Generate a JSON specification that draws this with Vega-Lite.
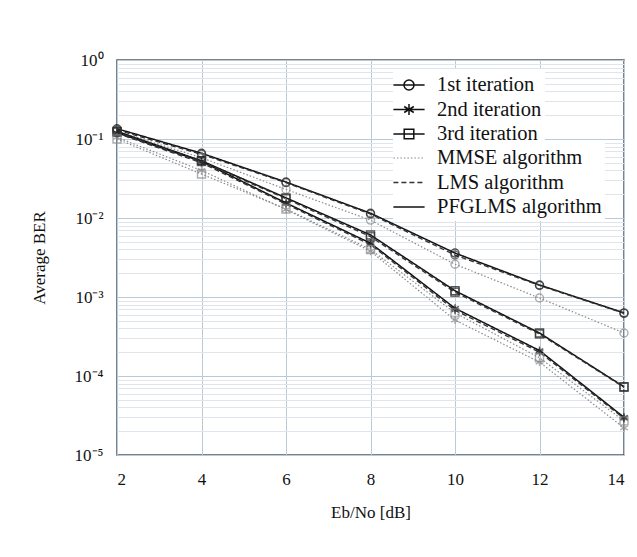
{
  "$schema": "https://vega.github.io/schema/vega-lite/v6.json",
  "width": 507,
  "height": 395,
  "autosize": "none",
  "padding": {"left": 117, "top": 60, "right": 13, "bottom": 102},
  "background": "white",
  "config": {
    "view": {"stroke": "#4a5a6a", "strokeWidth": 1.5},
    "font": "Liberation Serif",
    "axis": {"labelFont": "Liberation Serif", "titleFont": "Liberation Serif", "labelColor": "#111", "titleColor": "#111", "titleFontWeight": "normal"},
    "legend": {"labelFont": "Liberation Serif", "labelFontSize": 20.5, "labelColor": "#111", "labelLimit": 400}
  },
  "data": {
    "values": [
      {"snr": 2, "ber": 0.135, "iter": "1st iteration", "alg": "PFGLMS algorithm"},
      {"snr": 4, "ber": 0.066, "iter": "1st iteration", "alg": "PFGLMS algorithm"},
      {"snr": 6, "ber": 0.0285, "iter": "1st iteration", "alg": "PFGLMS algorithm"},
      {"snr": 8, "ber": 0.0115, "iter": "1st iteration", "alg": "PFGLMS algorithm"},
      {"snr": 10, "ber": 0.0036, "iter": "1st iteration", "alg": "PFGLMS algorithm"},
      {"snr": 12, "ber": 0.00142, "iter": "1st iteration", "alg": "PFGLMS algorithm"},
      {"snr": 14, "ber": 0.00063, "iter": "1st iteration", "alg": "PFGLMS algorithm"},
      {"snr": 2, "ber": 0.13, "iter": "1st iteration", "alg": "LMS algorithm"},
      {"snr": 4, "ber": 0.064, "iter": "1st iteration", "alg": "LMS algorithm"},
      {"snr": 6, "ber": 0.028, "iter": "1st iteration", "alg": "LMS algorithm"},
      {"snr": 8, "ber": 0.0112, "iter": "1st iteration", "alg": "LMS algorithm"},
      {"snr": 10, "ber": 0.0034, "iter": "1st iteration", "alg": "LMS algorithm"},
      {"snr": 12, "ber": 0.0014, "iter": "1st iteration", "alg": "LMS algorithm"},
      {"snr": 14, "ber": 0.00062, "iter": "1st iteration", "alg": "LMS algorithm"},
      {"snr": 2, "ber": 0.125, "iter": "1st iteration", "alg": "MMSE algorithm"},
      {"snr": 4, "ber": 0.058, "iter": "1st iteration", "alg": "MMSE algorithm"},
      {"snr": 6, "ber": 0.023, "iter": "1st iteration", "alg": "MMSE algorithm"},
      {"snr": 8, "ber": 0.0094, "iter": "1st iteration", "alg": "MMSE algorithm"},
      {"snr": 10, "ber": 0.0026, "iter": "1st iteration", "alg": "MMSE algorithm"},
      {"snr": 12, "ber": 0.00097, "iter": "1st iteration", "alg": "MMSE algorithm"},
      {"snr": 14, "ber": 0.00035, "iter": "1st iteration", "alg": "MMSE algorithm"},
      {"snr": 2, "ber": 0.12, "iter": "2nd iteration", "alg": "PFGLMS algorithm"},
      {"snr": 4, "ber": 0.052, "iter": "2nd iteration", "alg": "PFGLMS algorithm"},
      {"snr": 6, "ber": 0.0155, "iter": "2nd iteration", "alg": "PFGLMS algorithm"},
      {"snr": 8, "ber": 0.0048, "iter": "2nd iteration", "alg": "PFGLMS algorithm"},
      {"snr": 10, "ber": 0.00072, "iter": "2nd iteration", "alg": "PFGLMS algorithm"},
      {"snr": 12, "ber": 0.00021, "iter": "2nd iteration", "alg": "PFGLMS algorithm"},
      {"snr": 14, "ber": 0.00003, "iter": "2nd iteration", "alg": "PFGLMS algorithm"},
      {"snr": 2, "ber": 0.118, "iter": "2nd iteration", "alg": "LMS algorithm"},
      {"snr": 4, "ber": 0.05, "iter": "2nd iteration", "alg": "LMS algorithm"},
      {"snr": 6, "ber": 0.015, "iter": "2nd iteration", "alg": "LMS algorithm"},
      {"snr": 8, "ber": 0.0046, "iter": "2nd iteration", "alg": "LMS algorithm"},
      {"snr": 10, "ber": 0.00068, "iter": "2nd iteration", "alg": "LMS algorithm"},
      {"snr": 12, "ber": 0.0002, "iter": "2nd iteration", "alg": "LMS algorithm"},
      {"snr": 14, "ber": 0.000029, "iter": "2nd iteration", "alg": "LMS algorithm"},
      {"snr": 2, "ber": 0.105, "iter": "2nd iteration", "alg": "MMSE algorithm"},
      {"snr": 4, "ber": 0.04, "iter": "2nd iteration", "alg": "MMSE algorithm"},
      {"snr": 6, "ber": 0.0128, "iter": "2nd iteration", "alg": "MMSE algorithm"},
      {"snr": 8, "ber": 0.0038, "iter": "2nd iteration", "alg": "MMSE algorithm"},
      {"snr": 10, "ber": 0.00051, "iter": "2nd iteration", "alg": "MMSE algorithm"},
      {"snr": 12, "ber": 0.00015, "iter": "2nd iteration", "alg": "MMSE algorithm"},
      {"snr": 14, "ber": 0.000022, "iter": "2nd iteration", "alg": "MMSE algorithm"},
      {"snr": 2, "ber": 0.125, "iter": "3rd iteration", "alg": "PFGLMS algorithm"},
      {"snr": 4, "ber": 0.053, "iter": "3rd iteration", "alg": "PFGLMS algorithm"},
      {"snr": 6, "ber": 0.018, "iter": "3rd iteration", "alg": "PFGLMS algorithm"},
      {"snr": 8, "ber": 0.0061, "iter": "3rd iteration", "alg": "PFGLMS algorithm"},
      {"snr": 10, "ber": 0.0012, "iter": "3rd iteration", "alg": "PFGLMS algorithm"},
      {"snr": 12, "ber": 0.00035, "iter": "3rd iteration", "alg": "PFGLMS algorithm"},
      {"snr": 14, "ber": 0.000073, "iter": "3rd iteration", "alg": "PFGLMS algorithm"},
      {"snr": 2, "ber": 0.122, "iter": "3rd iteration", "alg": "LMS algorithm"},
      {"snr": 4, "ber": 0.052, "iter": "3rd iteration", "alg": "LMS algorithm"},
      {"snr": 6, "ber": 0.0175, "iter": "3rd iteration", "alg": "LMS algorithm"},
      {"snr": 8, "ber": 0.0058, "iter": "3rd iteration", "alg": "LMS algorithm"},
      {"snr": 10, "ber": 0.00115, "iter": "3rd iteration", "alg": "LMS algorithm"},
      {"snr": 12, "ber": 0.00034, "iter": "3rd iteration", "alg": "LMS algorithm"},
      {"snr": 14, "ber": 0.000072, "iter": "3rd iteration", "alg": "LMS algorithm"},
      {"snr": 2, "ber": 0.1, "iter": "3rd iteration", "alg": "MMSE algorithm"},
      {"snr": 4, "ber": 0.036, "iter": "3rd iteration", "alg": "MMSE algorithm"},
      {"snr": 6, "ber": 0.013, "iter": "3rd iteration", "alg": "MMSE algorithm"},
      {"snr": 8, "ber": 0.004, "iter": "3rd iteration", "alg": "MMSE algorithm"},
      {"snr": 10, "ber": 0.00063, "iter": "3rd iteration", "alg": "MMSE algorithm"},
      {"snr": 12, "ber": 0.00017, "iter": "3rd iteration", "alg": "MMSE algorithm"},
      {"snr": 14, "ber": 0.000027, "iter": "3rd iteration", "alg": "MMSE algorithm"}
    ]
  },
  "encoding": {
    "x": {
      "field": "snr", "type": "quantitative",
      "scale": {"domain": [2, 14], "nice": false, "zero": false},
      "axis": {
        "values": [2, 4, 6, 8, 10, 12, 14],
        "title": "Eb/No [dB]",
        "titleFontSize": 17,
        "titlePadding": 17,
        "labelFontSize": 17,
        "labelPadding": 16,
        "ticks": false,
        "domain": false,
        "grid": true,
        "gridColor": "#bccad6",
        "gridWidth": 1
      }
    },
    "y": {
      "field": "ber", "type": "quantitative",
      "scale": {"type": "log", "domain": [0.00001, 1], "nice": false},
      "axis": {
        "values": [0.00001, 0.00002, 0.00003, 0.00004, 0.00005, 0.00006, 0.00007, 0.00008, 0.00009,
                   0.0001, 0.0002, 0.0003, 0.0004, 0.0005, 0.0006, 0.0007, 0.0008, 0.0009,
                   0.001, 0.002, 0.003, 0.004, 0.005, 0.006, 0.007, 0.008, 0.009,
                   0.01, 0.02, 0.03, 0.04, 0.05, 0.06, 0.07, 0.08, 0.09,
                   0.1, 0.2, 0.3, 0.4, 0.5, 0.6, 0.7, 0.8, 0.9, 1],
        "labelExpr": "abs(log(datum.value)/LN10 - round(log(datum.value)/LN10)) < 0.01 ? '10' + ['⁰','⁻¹','⁻²','⁻³','⁻⁴','⁻⁵'][round(-log(datum.value)/LN10)] : ''",
        "title": "Average BER",
        "titleFontSize": 17,
        "titleX": -69,
        "labelFontSize": 17,
        "labelPadding": 14,
        "labelBaseline": "middle",
        "ticks": false,
        "domain": false,
        "grid": true,
        "gridColor": {"condition": {"test": "abs(log(datum.value)/LN10 - round(log(datum.value)/LN10)) < 0.01", "value": "#bccad6"}, "value": "#dfe5ea"},
        "gridWidth": 1
      }
    }
  },
  "layer": [
    {
      "mark": {"type": "line"},
      "encoding": {
        "detail": {"field": "iter"},
        "color": {
          "field": "alg", "type": "nominal",
          "scale": {"domain": ["MMSE algorithm", "LMS algorithm", "PFGLMS algorithm"], "range": ["#8a8a8a", "#333333", "#111111"]},
          "legend": {
            "title": null, "orient": "none", "legendX": 276, "legendY": 82,
            "symbolType": "M-1.3,0L1.3,0", "symbolSize": 576, "symbolStrokeWidth": 1.5,
            "labelFont": "Liberation Serif", "labelFontSize": 20.5, "labelLimit": 400,
            "labelOffset": 15, "rowPadding": 0.5, "padding": 3,
            "fillColor": "white", "symbolFillColor": "transparent"
          }
        },
        "strokeDash": {
          "field": "alg", "type": "nominal",
          "scale": {"domain": ["MMSE algorithm", "LMS algorithm", "PFGLMS algorithm"], "range": [[1.5, 2], [5, 3], [1, 0]]}
        },
        "strokeWidth": {
          "field": "alg", "type": "nominal",
          "scale": {"domain": ["MMSE algorithm", "LMS algorithm", "PFGLMS algorithm"], "range": [1.2, 1.5, 2]},
          "legend": null
        }
      }
    },
    {
      "mark": {"type": "point", "filled": false, "size": 64, "strokeWidth": 1.4},
      "encoding": {
        "shape": {
          "field": "iter", "type": "nominal",
          "scale": {"domain": ["1st iteration", "2nd iteration", "3rd iteration"], "range": ["circle", "M0,-1L0,1M-0.95,-0.5L0.95,0.5M-0.95,0.5L0.95,-0.5", "square"]},
          "legend": null
        },
        "stroke": {
          "field": "alg", "type": "nominal",
          "scale": {"domain": ["MMSE algorithm", "LMS algorithm", "PFGLMS algorithm"], "range": ["#8a8a8a", "#333333", "#111111"]},
          "legend": null
        }
      }
    },
    {
      "mark": {"type": "point", "filled": false, "size": 576, "opacity": 0, "strokeWidth": 1.5, "color": "#111"},
      "encoding": {
        "shape": {
          "field": "iter", "type": "nominal",
          "scale": {"domain": ["1st iteration", "2nd iteration", "3rd iteration"], "range": [
            "M-1.3,0L1.3,0M0.42,0A0.42,0.42 0 1 1 -0.42,0A0.42,0.42 0 1 1 0.42,0",
            "M-1.3,0L1.3,0M0,-0.45L0,0.45M-0.4,-0.25L0.4,0.25M-0.4,0.25L0.4,-0.25",
            "M-1.3,0L1.3,0M-0.4,-0.4L0.4,-0.4L0.4,0.4L-0.4,0.4Z"]},
          "legend": {
            "title": null, "orient": "none", "legendX": 276, "legendY": 9,
            "symbolSize": 576, "symbolOpacity": 1, "symbolStrokeColor": "#111", "symbolFillColor": "transparent", "symbolStrokeWidth": 1.5,
            "labelFont": "Liberation Serif", "labelFontSize": 20.5, "labelLimit": 400,
            "labelOffset": 15, "rowPadding": 0.5, "padding": 3,
            "fillColor": "white"
          }
        }
      }
    }
  ],
  "resolve": {"scale": {"shape": "independent"}, "legend": {"shape": "independent"}}
}
